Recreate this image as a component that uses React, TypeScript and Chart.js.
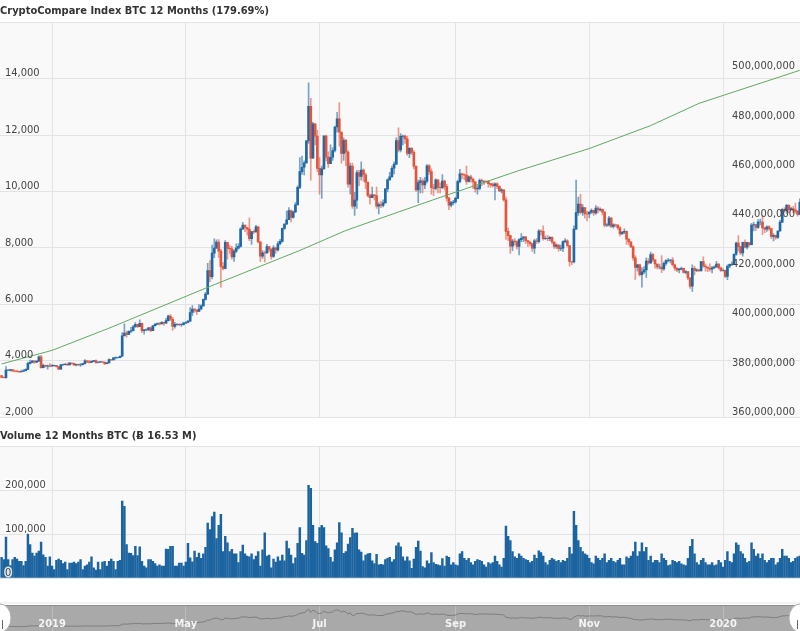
import React, { useEffect, useRef } from "react";
import { Chart, registerables } from "chart.js";
Chart.register(...registerables);

const FONT = "'DejaVu Sans Condensed', 'DejaVu Sans', sans-serif";

const priceTitle = "CryptoCompare Index BTC 12 Months (179.69%)";
const volumeTitle = "Volume 12 Months BTC (Ƀ 16.53 M)";

// Daily candles, 6 Feb 2019 .. 5 Feb 2020 (open of each day = previous close)
const firstOpen = 3468;
const closes = [
  3404,3397,3661,3665,3680,3632,3627,3617,3601,3612,3640,3688,3900,3935,3980,3940,3980,4130,3750,3830,3805,3815,3805,
  3820,3830,3790,3700,3850,3860,3870,3850,3915,3900,3850,3865,3850,3855,3890,3990,3955,3935,3975,4000,3935,3945,3960,3945,3895,3920,4040,4025,4095,4105,4105,
  4155,4880,4975,4925,5035,5060,5200,5290,5205,5325,5065,5090,5095,5165,5065,5235,5285,5310,5305,5360,5330,5420,5575,5465,5210,5285,5285,5270,5285,5330,
  5350,5400,5705,5830,5795,5745,5830,5940,6170,6360,7190,6980,7810,7990,8200,7880,7340,7270,8195,7980,7960,7680,7880,7990,8050,8670,8805,8720,8660,8320,8575,
  8565,8740,8210,7705,7825,7820,8040,7955,7690,8000,7925,8145,8230,8690,8840,8995,9320,9080,9275,9525,10145,10700,10855,11010,11790,13015,11180,12400,11960,10815,
  10580,10800,11960,11215,10980,11210,11450,12285,12570,12100,11350,11815,11390,10255,10900,9480,9690,10665,10530,10760,10590,10325,9855,9775,9880,9850,9480,9530,9505,9595,10090,
  10410,10520,10820,10970,11800,11470,11950,11965,11860,11350,11525,11385,10895,10050,10310,10375,10230,10365,10905,10700,10130,10110,10410,10145,10135,10365,10170,9760,9510,9600,9625,
  9755,10345,10620,10595,10575,10350,10515,10440,10335,10090,10105,10395,10360,10360,10345,10275,10240,10200,10265,10180,10020,10060,9700,8580,8430,8060,8240,8220,8050,8290,
  8340,8390,8260,8205,8150,7990,8245,8230,8595,8585,8320,8335,8320,8375,8205,8045,8100,7975,7990,8220,8245,8080,7515,7495,8660,9245,9550,9255,9425,9205,9200,
  9260,9325,9235,9410,9340,9360,9265,8805,8815,9055,8755,8815,8810,8710,8490,8550,8580,8310,8205,8030,7640,7300,7400,7050,7145,7220,7530,7465,7760,7570,
  7425,7320,7320,7250,7450,7545,7555,7565,7400,7280,7220,7245,7270,7125,7155,6930,6640,7275,7200,7220,7190,7510,7355,7320,7275,7240,7290,7320,7420,7290,7195,
  7200,6985,7345,7410,7410,7770,8165,8040,7815,8195,8020,8185,8110,8810,8820,8720,8915,8915,8705,8660,8745,8680,8405,8445,8365,8595,8910,9360,9315,9510,9350,
  9390,9345,9295,9180,9615,
];
const highs = [
  3470,3427,3785,3681,3690,3686,3660,3657,3630,3660,3680,3710,3950,4020,4010,4000,3995,4170,4190,3880,3840,3840,3890,
  3860,3840,3835,3800,3870,3880,3900,3920,3940,3920,3910,3880,3875,3890,3900,4040,3995,4010,3990,4010,4030,3960,3970,3965,3950,3930,4060,4045,4115,4130,4115,
  4170,4990,5300,5050,5060,5180,5250,5350,5290,5450,5330,5110,5130,5180,5200,5250,5320,5340,5360,5380,5370,5500,5610,5630,5530,5360,5315,5310,5300,5370,
  5385,5420,5880,5950,5840,5800,5990,5980,6180,6420,7450,7550,8100,8320,8280,8290,7950,7480,8260,8200,8100,8050,7940,8140,8150,8710,8900,8810,8730,9050,8580,
  8630,8800,8750,8210,7900,7880,8120,8050,7960,8080,8010,8220,8300,8700,8850,9300,9430,9340,9300,9600,10200,11200,11250,11080,11800,13850,13300,12450,12250,12170,
  11200,10900,11980,12000,11400,11650,11550,12320,12800,13150,12100,11900,11850,11450,11000,11000,9970,10750,10750,11050,10800,10650,10340,9910,10150,9890,10150,9600,9650,9700,10100,
  10450,10680,10900,11050,11900,12250,12050,12000,12000,11950,11550,11550,11450,10900,10400,10500,10450,10500,10950,10950,10800,10250,10450,10400,10300,10600,10400,10250,9800,9650,9680,
  9800,10400,10780,10650,10620,10900,10550,10580,10470,10350,10200,10450,10440,10380,10380,10380,10290,10300,10300,10300,10200,10100,10050,9800,8700,8450,8300,8330,8250,8330,
  8500,8400,8400,8260,8220,8160,8300,8340,8650,8640,8780,8420,8440,8400,8390,8210,8140,8110,8100,8250,8330,8290,8080,7520,8780,10400,9800,9900,9530,9420,9300,
  9290,9380,9340,9500,9460,9420,9380,9280,8860,9120,9080,8860,8840,8820,8750,8580,8670,8600,8320,8230,8080,7720,7410,7420,7300,7330,7640,7620,7850,7800,
  7570,7430,7420,7720,7500,7580,7630,7590,7650,7420,7290,7270,7320,7280,7190,7160,6950,7400,7340,7250,7220,7520,7680,7420,7320,7430,7340,7360,7520,7440,7320,
  7250,7210,7400,7430,7500,7790,8200,8430,8050,8200,8280,8200,8190,8870,8900,8820,9000,9020,9160,8720,8780,8790,8690,8500,8450,8600,8970,9390,9430,9540,9520,
  9440,9470,9590,9330,9740,
];
const lows = [
  3397,3390,3380,3640,3625,3618,3600,3595,3580,3600,3610,3630,3680,3880,3915,3900,3930,3970,3730,3740,3780,3700,3780,
  3800,3800,3770,3680,3700,3830,3850,3820,3850,3870,3830,3810,3830,3790,3850,3885,3930,3910,3925,3960,3900,3920,3935,3925,3860,3880,3915,4005,4020,4055,4090,
  4095,4150,4870,4830,4920,4990,5055,5180,5165,5200,4990,4940,5060,5060,5030,5060,5225,5280,5260,5300,5250,5310,5400,5420,5070,5150,5250,5240,5210,5260,
  5320,5340,5390,5590,5720,5640,5740,5800,5930,6140,6350,6800,6900,7650,7980,7660,6600,7220,7250,7600,7800,7600,7520,7830,7950,8020,8640,8570,8450,8250,8120,
  8500,8550,8180,7520,7620,7500,7800,7850,7600,7660,7800,7880,8100,8200,8650,8870,9000,8920,9050,9250,9520,10100,10600,10580,11000,11700,10400,11200,11650,10700,
  9900,9750,10800,11080,10850,10980,11100,11400,12100,11600,11000,11100,10900,10150,9900,9400,9150,9400,10200,10400,10350,10100,9800,9550,9780,9700,9400,9200,9420,9450,9580,
  9980,10400,10500,10620,10950,11400,11400,11650,11700,11280,11200,11300,10800,10000,9600,9950,9950,10100,10300,10600,9900,9850,10050,9950,9950,10100,10050,9650,9350,9450,9520,
  9580,9750,10300,10450,10420,10250,10330,10330,10100,9970,9900,10050,10200,10250,10300,10150,10150,10150,9700,10100,9990,9950,9650,8300,8250,7800,7900,8100,7950,7750,
  8220,8220,8150,8050,8070,7870,7800,8150,8170,8450,8270,8300,8250,8250,8150,7980,7980,7880,7900,7860,8180,8030,7350,7400,7460,8900,9150,9200,9150,9050,8950,
  9070,9220,9150,9180,9240,9300,9170,8740,8760,8770,8710,8700,8750,8640,8420,8480,8500,8120,8100,8010,7550,6880,7170,6990,6600,7080,6950,7420,7450,7510,
  7280,7250,7250,7120,7200,7380,7500,7460,7350,7200,7150,7110,7220,7100,7070,6870,6560,6450,7040,7150,7150,7160,7300,7170,7150,7170,7110,7270,7300,7250,7160,
  7170,6940,6870,7290,7370,7400,7730,7880,7760,7700,8000,7960,8060,8100,8600,8620,8690,8810,8470,8540,8580,8620,8330,8240,8300,8330,8580,8890,9260,9220,9250,
  9330,9240,9230,9120,9170,
];
// Daily volume, thousands of BTC
const volumesK = [
  47,42,93,42,28,42,47,43,38,38,28,38,100,76,57,50,57,61,82,53,47,27,48,27,19,40,43,40,33,36,19,34,34,36,33,36,42,19,27,30,36,48,23,18,36,19,36,38,27,38,43,38,19,38,40,
  175,163,76,57,56,51,72,51,71,38,27,23,42,42,38,33,27,30,27,27,66,65,72,72,27,27,34,34,27,36,79,46,37,61,47,57,
  45,55,70,125,110,140,150,90,120,145,60,95,80,60,65,55,55,35,60,75,55,50,
  48,55,42,50,
  60,27,64,103,50,52,23,43,36,48,39,52,39,84,67,52,33,46,79,115,56,52,85,211,204,120,83,79,115,120,115,73,67,47,37,64,80,126,103,56,60,77,92,113,102,103,64,59,39,52,55,56,39,33,54,30,31,30,42,45,47,37,42,73,80,71,48,39,48,39,22,43,70,84,61,26,23,39,33,58,35,31,30,28,44,27,50,47,30,
  35,30,28,55,60,45,40,45,35,30,38,42,40,38,30,25,35,32,35,50,38,30,25,45,
  118,95,85,60,48,45,55,50,45,42,40,35,38,52,45,62,58,50,35,30,40,45,42,38,40,35,40,38,45,70,55,152,120,85,70,60,55,52,
  45,35,32,50,45,40,45,55,35,40,45,38,35,40,45,30,30,48,45,50,60,82,50,60,80,60,70,40,50,35,
  40,40,35,55,45,40,28,30,40,38,35,38,32,30,28,45,72,88,55,35,30,40,45,35,30,30,35,28,30,40,35,
  25,40,60,38,35,55,80,75,60,55,45,35,38,80,65,50,55,45,55,40,35,40,45,45,30,35,45,65,50,50,45,35,38,45,48,50,
];
// Right-axis series (millions), sampled at day indices
const trendDays = [0, 23, 49, 80, 93, 118, 136, 157, 200, 236, 268, 296, 318, 364];
const trendValuesM = [381.5, 387, 396, 407.4, 412.2, 421.1, 427.5, 435.6, 449, 459.9, 468.8, 478.1, 487.1, 500.5];

const tickDays = [23, 84, 145, 207, 268, 329];
const tickLabels = ["2019", "May", "Jul", "Sep", "Nov", "2020"];

const X_MIN = -0.73;
const X_MAX = 364.1;
const GRID = "#e3e3e3";
const PLOT_BG = "#f9f9f9";
const UP = "#1f69a6";
const DOWN = "#e2553c";
const UP_WICK = "rgba(31,105,166,0.6)";
const DOWN_WICK = "rgba(226,85,60,0.6)";
const TEXT = "#444";

const fmt = (n: number) => Math.round(n).toLocaleString("en-US");

const plotBg = (color: string) => ({
  id: "plotBg",
  beforeDraw(chart: any) {
    const { ctx, chartArea: a } = chart;
    ctx.save();
    ctx.fillStyle = color;
    ctx.fillRect(a.left, a.top, a.right - a.left, a.bottom - a.top);
    ctx.restore();
  },
});

const xAxis = (gridColor: string) => ({
  type: "linear",
  min: X_MIN,
  max: X_MAX,
  offset: false,
  afterBuildTicks: (s: any) => {
    s.ticks = tickDays.map((v) => ({ value: v }));
  },
  afterFit: (s: any) => {
    s.height = 0;
    s.paddingLeft = 0;
    s.paddingRight = 0;
  },
  ticks: { display: false },
  grid: { color: gridColor, drawTicks: false, offset: false },
  border: { display: false },
});

const yFit = (s: any) => {
  s.width = 0;
  s.paddingTop = 0;
  s.paddingBottom = 0;
};

// grid-only axis (drawn under the marks)
const gridAxis = (min: number, max: number, step: number) => ({
  type: "linear",
  position: "left",
  min,
  max,
  afterFit: yFit,
  ticks: { stepSize: step, display: false },
  grid: { color: GRID, drawTicks: false },
  border: { display: false },
});

// label-only axis (drawn over the marks)
const labelAxis = (
  position: string,
  min: number,
  max: number,
  step: number,
  pad: number,
  label: (v: number) => string,
  halo = false
) => ({
  type: "linear",
  position,
  min,
  max,
  z: 1,
  afterFit: yFit,
  ticks: {
    z: 1,
    stepSize: step,
    mirror: true,
    padding: pad,
    labelOffset: -5,
    autoSkip: false,
    color: TEXT,
    textStrokeColor: halo ? "rgba(255,255,255,0.85)" : undefined,
    textStrokeWidth: halo ? 3 : 0,
    font: { size: 11, family: FONT },
    callback: (v: any) => (v === max ? "" : label(v)),
  },
  grid: { display: false, drawTicks: false },
  border: { display: false },
});

const titleOpts = (text: string, top: number, bottom: number) => ({
  display: true,
  text,
  align: "start",
  color: "#333",
  font: { size: 11, weight: "bold", family: FONT },
  padding: { top, bottom },
});

export default function App() {
  const mainRef = useRef<HTMLCanvasElement>(null);
  const volRef = useRef<HTMLCanvasElement>(null);
  const navRef = useRef<HTMLCanvasElement>(null);

  useEffect(() => {
    const opens = closes.map((c, i) => (i === 0 ? firstOpen : closes[i - 1]));
    const isUp = closes.map((c, i) => c >= opens[i]);

    const main = new Chart(mainRef.current as HTMLCanvasElement, {
      type: "bar",
      data: {
        datasets: [
          {
            type: "line",
            data: trendDays.map((d, i) => ({ x: d, y: trendValuesM[i] })),
            yAxisID: "y2",
            borderColor: "#62a862",
            borderWidth: 1,
            pointRadius: 0,
            tension: 0,
            order: 0,
          } as any,
          {
            type: "bar",
            data: closes.map((c, i) => ({ x: i, y: [opens[i], c] })),
            backgroundColor: isUp.map((u) => (u ? UP : DOWN)),
            barThickness: 2,
            grouped: false,
            borderWidth: 0,
            yAxisID: "y",
            order: 1,
          } as any,
          {
            type: "bar",
            data: closes.map((c, i) => ({
              x: i,
              y: [Math.min(lows[i], opens[i], c), Math.max(highs[i], opens[i], c)],
            })),
            backgroundColor: isUp.map((u) => (u ? UP_WICK : DOWN_WICK)),
            barThickness: 1,
            grouped: false,
            borderWidth: 0,
            yAxisID: "y",
            order: 2,
          } as any,
        ],
      },
      options: {
        responsive: false,
        animation: false,
        events: [],
        layout: { padding: { left: 0, right: 0, top: 0, bottom: 3 } },
        plugins: {
          legend: { display: false },
          tooltip: { enabled: false },
          title: titleOpts(priceTitle, 5, 4) as any,
        },
        scales: {
          x: xAxis(GRID) as any,
          y: gridAxis(2000, 16000, 2000) as any,
          yLab: labelAxis("left", 2000, 16000, 2000, 5, (v) => fmt(v)) as any,
          y2: labelAxis("right", 360, 520, 20, -5, (v) => fmt(v * 1e6)) as any,
        },
      } as any,
      plugins: [plotBg(PLOT_BG)],
    });

    const vol = new Chart(volRef.current as HTMLCanvasElement, {
      type: "bar",
      data: {
        datasets: [
          {
            data: volumesK.map((v, i) => ({ x: i, y: v })),
            backgroundColor: "#1c64a0",
            borderWidth: 0,
            barThickness: 1.8,
            grouped: false,
            yAxisID: "y",
          } as any,
        ],
      },
      options: {
        responsive: false,
        animation: false,
        events: [],
        layout: { padding: { left: 0, right: 0, top: 0, bottom: 2 } },
        plugins: {
          legend: { display: false },
          tooltip: { enabled: false },
          title: titleOpts(volumeTitle, 10, 3) as any,
        },
        scales: {
          x: xAxis(GRID) as any,
          y: gridAxis(0, 300, 100) as any,
          yLab: labelAxis("left", 0, 300, 100, 5, (v) => fmt(v * 1000), true) as any,
        },
      } as any,
      plugins: [plotBg(PLOT_BG)],
    });

    const navDecor = {
      id: "navDecor",
      beforeDraw(chart: any) {
        const { ctx, chartArea: a } = chart;
        ctx.save();
        ctx.fillStyle = "#f3f3f3";
        ctx.fillRect(0, a.top - 3, chart.width, 2);
        ctx.fillStyle = "#a9a9a9";
        ctx.fillRect(a.left, a.top, a.right - a.left, a.bottom - a.top);
        ctx.restore();
      },
      afterDraw(chart: any) {
        const { ctx, chartArea: a, scales } = chart;
        ctx.save();
        ctx.fillStyle = "#8c8c8c";
        ctx.fillRect(a.left, a.top, a.right - a.left, 1);
        ctx.font = `bold 11px ${FONT}`;
        ctx.textAlign = "center";
        ctx.textBaseline = "middle";
        ctx.fillStyle = "#f4f4f4";
        tickDays.forEach((d, i) => {
          ctx.fillText(tickLabels[i], scales.x.getPixelForValue(d), a.top + 19);
        });
        const cy = a.top + 13;
        [a.left, a.right].forEach((hx, k) => {
          ctx.beginPath();
          ctx.ellipse(hx, cy, 11, 14, 0, 0, Math.PI * 2);
          ctx.fillStyle = "#ffffff";
          ctx.fill();
          ctx.strokeStyle = "#b0b0b0";
          ctx.lineWidth = 1;
          ctx.stroke();
          ctx.fillStyle = "#666";
          ctx.fillRect(k === 0 ? hx + 2 : hx - 3, cy + 2, 1, 9);
        });
        ctx.restore();
      },
    };

    const nav = new Chart(navRef.current as HTMLCanvasElement, {
      type: "line",
      data: {
        datasets: [
          {
            data: closes.map((c, i) => ({ x: i, y: c })),
            borderColor: "#7d7d7d",
            borderWidth: 1,
            pointRadius: 0,
            tension: 0,
          },
        ],
      },
      options: {
        responsive: false,
        animation: false,
        events: [],
        layout: { padding: { left: 0, right: 0, top: 25, bottom: 0 } },
        plugins: { legend: { display: false }, tooltip: { enabled: false } },
        scales: {
          x: xAxis("rgba(255,255,255,0.22)") as any,
          y: { type: "linear", display: false, min: 1270, max: 15130 },
        },
      } as any,
      plugins: [navDecor],
    });

    return () => {
      main.destroy();
      vol.destroy();
      nav.destroy();
    };
  }, []);

  return (
    <div style={{ width: 800, height: 631, overflow: "hidden", background: "#fff" }}>
      <style>{`body{margin:0;background:#fff;overflow:hidden}`}</style>
      <canvas ref={mainRef} width={800} height={420} style={{ display: "block" }} />
      <canvas ref={volRef} width={800} height={160} style={{ display: "block" }} />
      <canvas ref={navRef} width={800} height={51} style={{ display: "block" }} />
    </div>
  );
}
